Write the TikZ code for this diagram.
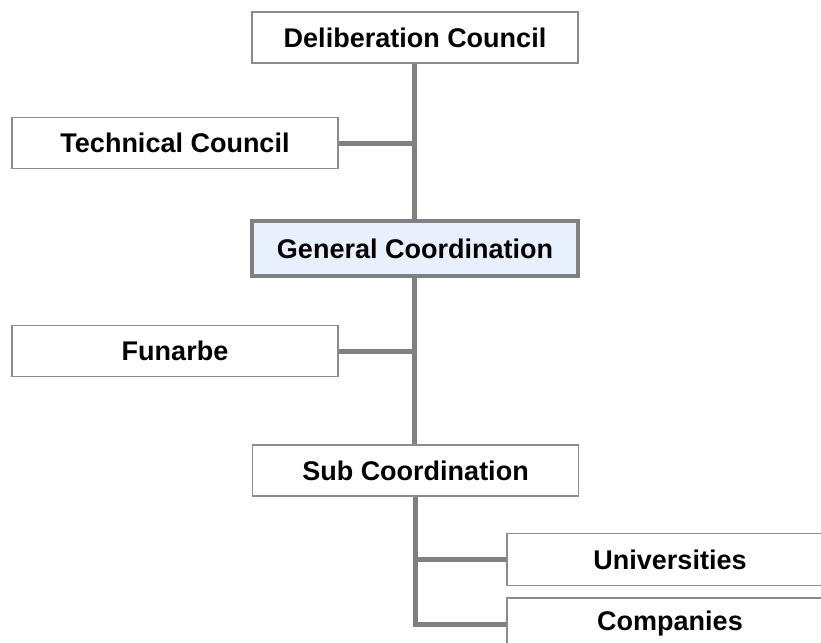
\documentclass[tikz,border=0pt]{standalone}
\usepackage{fontspec}
\setmainfont{Liberation Sans}
\usetikzlibrary{backgrounds}
\definecolor{linegray}{HTML}{808080}
\definecolor{boxgray}{HTML}{8C8C8C}
\definecolor{lightblue}{HTML}{E8F0FD}
\begin{document}
\begin{tikzpicture}[x=1pt,y=-1pt,
  orgbox/.style={draw=boxgray, line width=1.5pt, fill=white, minimum width=326pt, minimum height=51pt,
    inner sep=0pt, font=\fontsize{27}{32}\selectfont\bfseries},
  mainbox/.style={orgbox, draw=linegray, line width=4.5pt, fill=lightblue, minimum height=55pt},
  conn/.style={draw=linegray, line width=5pt}]
\clip (0,0) rectangle (821,642);
\coordinate (j1) at (414.5,143);
\coordinate (j2) at (414.5,351);
\coordinate (j3) at (415,559);
\coordinate (j4) at (415,624);
\node[orgbox] (delib) at (415,37.5) {Deliberation Council};
\node[orgbox] (tech) at (175,143) {Technical Council};
\node[mainbox] (gen) at (415,248.5) {General Coordination};
\node[orgbox] (fun) at (175,351) {Funarbe};
\node[orgbox] (sub) at (415.5,470.5) {Sub Coordination};
\node[orgbox, minimum height=52pt] (univ) at (670,559.5) {Universities};
\node[orgbox, minimum height=52pt] (comp) at (670,624) {Companies};
\begin{pgfonlayer}{background}
\fill[white] (0,0) rectangle (821,642);
\draw[conn] (delib.south -| j1) -- (gen.north -| j1);
\draw[conn] (tech.east) -- (j1);
\draw[conn] (gen.south -| j2) -- (sub.north -| j2);
\draw[conn] (fun.east) -- (j2);
\draw[conn] (sub.south -| j4) -- (j4) -- (comp.west |- j4);
\draw[conn] (j3) -- (univ.west |- j3);
\end{pgfonlayer}
\end{tikzpicture}
\end{document}
